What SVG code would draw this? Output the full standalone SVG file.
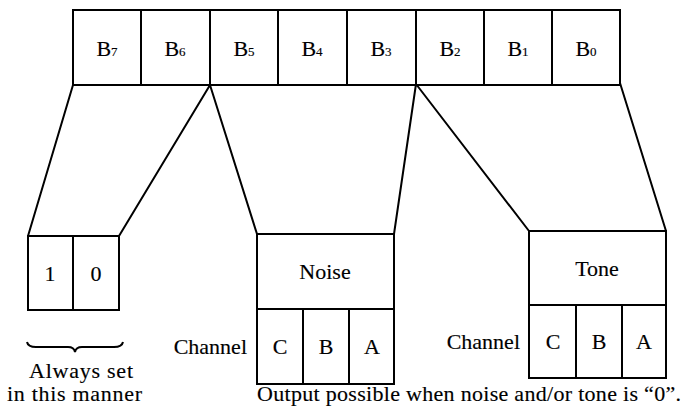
<svg xmlns="http://www.w3.org/2000/svg" width="689" height="419" viewBox="0 0 689 419">
<style>
.box{fill:none;stroke:#000;stroke-width:2}
.ln{fill:none;stroke:#000;stroke-width:2}
text{font-family:"Liberation Serif","Times New Roman",serif;font-size:22px;fill:#000;stroke:#000;stroke-width:0.15}
.m{text-anchor:middle}
.e{text-anchor:end}
.sub{font-size:13px}
</style>
<rect width="689" height="419" fill="#fff"/>
<g id="register">
<rect class="box" x="73" y="10" width="547" height="75"/>
<path class="ln" d="M141,10V85M210,10V85M278,10V85M347,10V85M416,10V85M484,10V85M552,10V85"/>
<text class="m" x="107" y="56">B<tspan class="sub">7</tspan></text>
<text class="m" x="175" y="56">B<tspan class="sub">6</tspan></text>
<text class="m" x="244" y="56">B<tspan class="sub">5</tspan></text>
<text class="m" x="312" y="56">B<tspan class="sub">4</tspan></text>
<text class="m" x="381" y="56">B<tspan class="sub">3</tspan></text>
<text class="m" x="450" y="56">B<tspan class="sub">2</tspan></text>
<text class="m" x="518" y="56">B<tspan class="sub">1</tspan></text>
<text class="m" x="586" y="56">B<tspan class="sub">0</tspan></text>
</g>
<g id="connectors">
<path class="ln" d="M73,85L28,236M210,85L119,236M210,85L257,234M416,84L394,234M416,84L529,231M620,83L666,231"/>
</g>
<g id="fixed">
<rect class="box" x="28" y="236" width="91" height="74"/>
<path class="ln" d="M73,236V310"/>
<text class="m" x="50" y="281">1</text>
<text class="m" x="96" y="281">0</text>
<path class="ln" d="M27,342Q28,347 36,347L68,347Q74,347 75,352Q76,347 82,347L114,347Q122,347 123,342" stroke-width="1.6"/>
<text x="29" y="378" textLength="104" lengthAdjust="spacing">Always set</text>
<text x="7" y="401" textLength="135" lengthAdjust="spacing">in this manner</text>
</g>
<g id="noise">
<rect class="box" x="257" y="234" width="137" height="150"/>
<path class="ln" d="M257,309H394M303,309V384M349,309V384"/>
<text class="m" x="325" y="279">Noise</text>
<text class="m" x="280" y="354">C</text>
<text class="m" x="326" y="354">B</text>
<text class="m" x="372" y="354">A</text>
<text class="e" x="247" y="354">Channel</text>
</g>
<g id="tone">
<rect class="box" x="529" y="231" width="137" height="147"/>
<path class="ln" d="M529,305H666M576,305V378M622,305V378"/>
<text class="m" x="597" y="276">Tone</text>
<text class="m" x="553" y="349">C</text>
<text class="m" x="599" y="349">B</text>
<text class="m" x="644" y="349">A</text>
<text class="e" x="520" y="349">Channel</text>
</g>
<text x="257" y="401" textLength="424" lengthAdjust="spacing">Output possible when noise and/or tone is “0”.</text>
</svg>
